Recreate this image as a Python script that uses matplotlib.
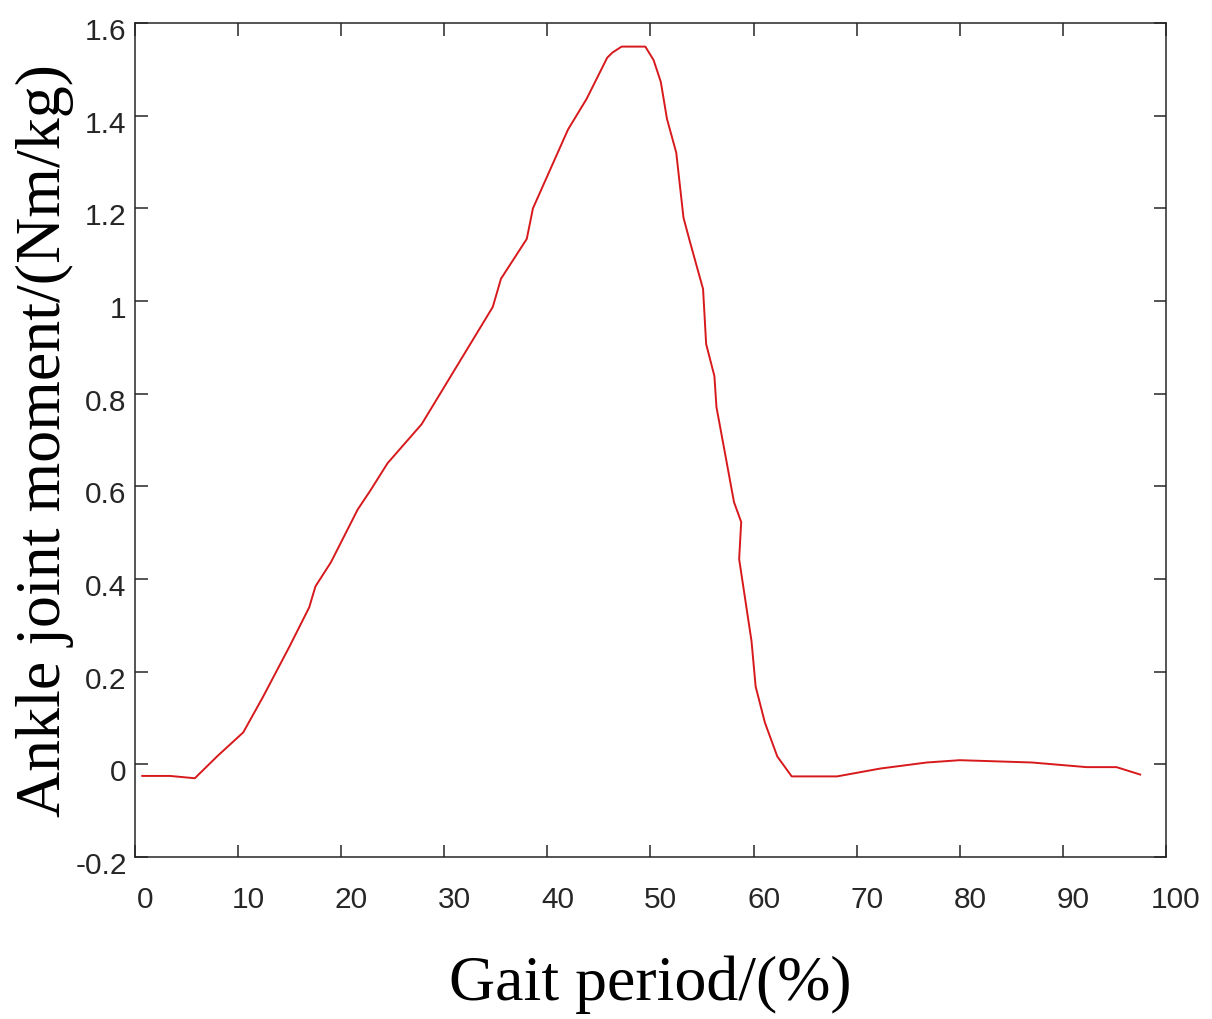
import matplotlib

matplotlib.use("Agg")
import matplotlib.pyplot as plt
import matplotlib.transforms as mtransforms
from matplotlib.ticker import FuncFormatter

# Curva de momento del tobillo a lo largo del ciclo de marcha
gait = [0.7, 3.4, 5.8, 8.0, 10.5, 12.4, 15.0, 16.9, 17.5, 19.0, 21.6, 22.8,
        24.5, 27.8, 34.7, 35.5, 38.0, 38.6, 40.5, 42.0, 43.8, 45.8, 46.3,
        47.2, 49.5, 50.3, 51.0, 51.6, 52.5, 53.2, 53.8, 55.1, 55.4, 56.2,
        56.4, 57.1, 58.1, 58.8, 58.6, 59.8, 60.2, 61.1, 62.3, 63.7, 68.1,
        72.3, 76.8, 80.0, 87.0, 92.3, 95.2, 97.5]
moment = [-0.025, -0.025, -0.030, 0.018, 0.069, 0.145, 0.255, 0.339, 0.384,
          0.436, 0.550, 0.590, 0.650, 0.734, 0.987, 1.048, 1.134, 1.200,
          1.295, 1.370, 1.436, 1.525, 1.536, 1.549, 1.549, 1.520, 1.473,
          1.393, 1.320, 1.180, 1.130, 1.026, 0.907, 0.838, 0.771, 0.687,
          0.566, 0.523, 0.443, 0.266, 0.168, 0.090, 0.017, -0.026, -0.026,
          -0.009, 0.004, 0.009, 0.004, -0.006, -0.006, -0.022]

xticks = list(range(0, 101, 10))
yticks = [-0.2, 0, 0.2, 0.4, 0.6, 0.8, 1, 1.2, 1.4, 1.6]

plt.rcParams["axes.unicode_minus"] = False

fig = plt.figure(figsize=(12.12, 10.20), dpi=100)
ax = fig.add_axes([0.1114, 0.1588, 0.8506, 0.8177])

ax.plot(gait, moment, color="#d7191c", lw=1.4)

ax.set_xlim(0, 100)
ax.set_ylim(-0.2, 1.6)
ax.set_xticks(xticks)
ax.set_yticks(yticks)
ax.yaxis.set_major_formatter(FuncFormatter(lambda v, p: f"{v:g}"))

ax.tick_params(direction="in", length=9, width=1.1, top=True, right=True,
               color="#262626", labelsize=21.5, labelcolor="#262626")
ax.tick_params(axis="x", pad=20)
ax.tick_params(axis="y", pad=6)

# las etiquetas del original estan algo desplazadas respecto a las marcas
dx = mtransforms.ScaledTranslation(0.10, 0, fig.dpi_scale_trans)
dy = mtransforms.ScaledTranslation(0, -0.05, fig.dpi_scale_trans)
for lab in ax.get_xticklabels():
    lab.set_fontfamily("Liberation Sans")
    lab.set_transform(lab.get_transform() + dx)
for lab in ax.get_yticklabels():
    lab.set_fontfamily("Liberation Sans")
    lab.set_transform(lab.get_transform() + dy)

for sp in ax.spines.values():
    sp.set_linewidth(1.1)
    sp.set_color("#262626")

ax.set_xlabel("Gait period/(%)", fontfamily="Liberation Serif", fontsize=46,
              labelpad=30)
ax.set_ylabel("Ankle joint moment/(Nm/kg)", fontfamily="Liberation Serif",
              fontsize=46, labelpad=1)

fig.savefig("out.png", dpi=100)
